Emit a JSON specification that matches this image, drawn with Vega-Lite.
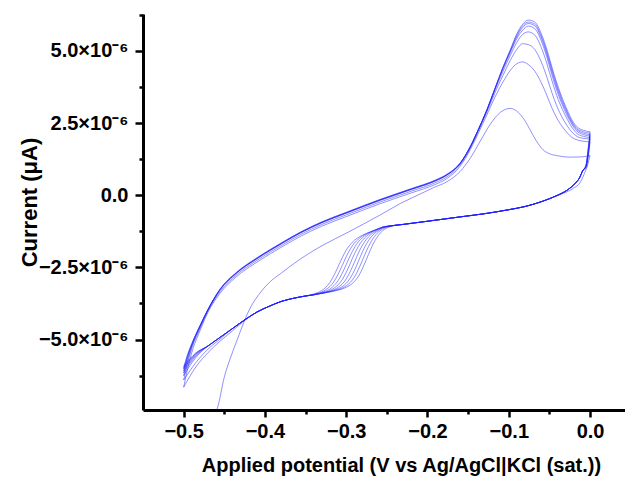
{
"$schema": "https://vega.github.io/schema/vega-lite/v6.json",
"width": 482, "height": 396,
"autosize": {"type": "none"},
"padding": {"left": 143, "top": 14, "right": 0, "bottom": 67},
"background": "white",
"config": {"view": {"stroke": null}},
"data": {"values": [
{"s":"1a","x":-0.462,"y":-7.6e-6},{"s":"1a","x":-0.458,"y":-7.33e-6},{"s":"1a","x":-0.45,"y":-6.3e-6},{"s":"1a","x":-0.442,"y":-5.6e-6},{"s":"1a","x":-0.434,"y":-5.0e-6},{"s":"1a","x":-0.426,"y":-4.4e-6},{"s":"1a","x":-0.418,"y":-3.9e-6},{"s":"1a","x":-0.405,"y":-3.35e-6},{"s":"1a","x":-0.393,"y":-2.98e-6},{"s":"1a","x":-0.381,"y":-2.72e-6},{"s":"1a","x":-0.356,"y":-2.2e-6},{"s":"1a","x":-0.33,"y":-1.75e-6},{"s":"1a","x":-0.299,"y":-1.3e-6},{"s":"1a","x":-0.258,"y":-0.68e-6},{"s":"1a","x":-0.233,"y":-0.28e-6},{"s":"1a","x":-0.21,"y":0.03e-6},{"s":"1a","x":-0.193,"y":0.26e-6},{"s":"1a","x":-0.176,"y":0.47e-6},{"s":"1a","x":-0.16,"y":0.82e-6},{"s":"1a","x":-0.147,"y":1.3e-6},{"s":"1a","x":-0.135,"y":1.88e-6},{"s":"1a","x":-0.123,"y":2.45e-6},{"s":"1a","x":-0.11,"y":2.88e-6},{"s":"1a","x":-0.098,"y":3.01e-6},{"s":"1a","x":-0.088,"y":2.86e-6},{"s":"1a","x":-0.08,"y":2.58e-6},{"s":"1a","x":-0.074,"y":2.28e-6},{"s":"1a","x":-0.066,"y":1.88e-6},{"s":"1a","x":-0.058,"y":1.58e-6},{"s":"1a","x":-0.05,"y":1.44e-6},{"s":"1a","x":-0.04,"y":1.37e-6},{"s":"1a","x":-0.025,"y":1.32e-6},{"s":"1a","x":-0.01,"y":1.33e-6},{"s":"1a","x":0,"y":1.38e-6},

{"s":"1c","x":0,"y":1.38e-6},{"s":"1c","x":-0.003,"y":1.05e-6},{"s":"1c","x":-0.007,"y":0.75e-6},{"s":"1c","x":-0.012,"y":0.45e-6},{"s":"1c","x":-0.02,"y":0.25e-6},{"s":"1c","x":-0.03,"y":0.1e-6},{"s":"1c","x":-0.045,"y":-0.06e-6},{"s":"1c","x":-0.065,"y":-0.27e-6},{"s":"1c","x":-0.08,"y":-0.39e-6},{"s":"1c","x":-0.1,"y":-0.5e-6},{"s":"1c","x":-0.13,"y":-0.64e-6},{"s":"1c","x":-0.16,"y":-0.75e-6},{"s":"1c","x":-0.2,"y":-0.9e-6},{"s":"1c","x":-0.23,"y":-1.01e-6},{"s":"1c","x":-0.245,"y":-1.06e-6},
{"s":"1c","x":-0.255,"y":-1.10e-6},{"s":"1c","x":-0.26,"y":-1.15e-6},{"s":"1c","x":-0.265,"y":-1.205e-6},{"s":"1c","x":-0.27,"y":-1.26e-6},{"s":"1c","x":-0.275,"y":-1.32e-6},{"s":"1c","x":-0.28,"y":-1.38e-6},{"s":"1c","x":-0.285,"y":-1.46e-6},{"s":"1c","x":-0.29,"y":-1.56e-6},{"s":"1c","x":-0.295,"y":-1.71e-6},{"s":"1c","x":-0.3,"y":-1.90e-6},{"s":"1c","x":-0.305,"y":-2.17e-6},{"s":"1c","x":-0.31,"y":-2.48e-6},{"s":"1c","x":-0.315,"y":-2.77e-6},{"s":"1c","x":-0.32,"y":-3.02e-6},{"s":"1c","x":-0.325,"y":-3.19e-6},{"s":"1c","x":-0.33,"y":-3.30e-6},{"s":"1c","x":-0.335,"y":-3.37e-6},{"s":"1c","x":-0.34,"y":-3.42e-6},
{"s":"1c","x":-0.35,"y":-3.49e-6},{"s":"1c","x":-0.365,"y":-3.57e-6},{"s":"1c","x":-0.38,"y":-3.68e-6},{"s":"1c","x":-0.395,"y":-3.85e-6},{"s":"1c","x":-0.41,"y":-4.05e-6},{"s":"1c","x":-0.425,"y":-4.34e-6},{"s":"1c","x":-0.44,"y":-4.7e-6},{"s":"1c","x":-0.455,"y":-5.05e-6},{"s":"1c","x":-0.47,"y":-5.45e-6},{"s":"1c","x":-0.485,"y":-5.95e-6},{"s":"1c","x":-0.5,"y":-6.65e-6},

{"s":"2a","x":-0.5,"y":-6.65e-6},{"s":"2a","x":-0.495,"y":-6.0e-6},{"s":"2a","x":-0.49,"y":-5.45e-6},{"s":"2a","x":-0.48,"y":-4.7e-6},{"s":"2a","x":-0.47,"y":-4.05e-6},{"s":"2a","x":-0.455,"y":-3.39e-6},{"s":"2a","x":-0.435,"y":-2.82e-6},{"s":"2a","x":-0.41,"y":-2.32e-6},{"s":"2a","x":-0.393,"y":-2.02e-6},{"s":"2a","x":-0.375,"y":-1.72e-6},{"s":"2a","x":-0.356,"y":-1.42e-6},{"s":"2a","x":-0.33,"y":-1.07e-6},{"s":"2a","x":-0.3,"y":-0.74e-6},{"s":"2a","x":-0.258,"y":-0.29e-6},{"s":"2a","x":-0.22,"y":0.08e-6},{"s":"2a","x":-0.19,"y":0.38e-6},{"s":"2a","x":-0.176,"y":0.58e-6},
{"s":"2a","x":-0.16,"y":1.0e-6},{"s":"2a","x":-0.147,"y":1.6e-6},{"s":"2a","x":-0.137,"y":2.18e-6},{"s":"2a","x":-0.127,"y":2.78e-6},{"s":"2a","x":-0.117,"y":3.4e-6},{"s":"2a","x":-0.107,"y":3.93e-6},{"s":"2a","x":-0.098,"y":4.33e-6},{"s":"2a","x":-0.09,"y":4.56e-6},{"s":"2a","x":-0.083,"y":4.62e-6},{"s":"2a","x":-0.076,"y":4.53e-6},{"s":"2a","x":-0.068,"y":4.3e-6},{"s":"2a","x":-0.06,"y":3.9e-6},{"s":"2a","x":-0.053,"y":3.45e-6},{"s":"2a","x":-0.047,"y":3.03e-6},{"s":"2a","x":-0.041,"y":2.68e-6},{"s":"2a","x":-0.034,"y":2.37e-6},{"s":"2a","x":-0.028,"y":2.16e-6},{"s":"2a","x":-0.022,"y":2.0e-6},{"s":"2a","x":-0.016,"y":1.92e-6},{"s":"2a","x":-0.008,"y":1.87e-6},{"s":"2a","x":0,"y":1.85e-6},

{"s":"2c","x":0,"y":1.85e-6},{"s":"2c","x":-0.002,"y":1.35e-6},{"s":"2c","x":-0.005,"y":0.945e-6},{"s":"2c","x":-0.009,"y":0.85e-6},{"s":"2c","x":-0.013,"y":0.6e-6},{"s":"2c","x":-0.018,"y":0.42e-6},{"s":"2c","x":-0.028,"y":0.18e-6},{"s":"2c","x":-0.04,"y":0},{"s":"2c","x":-0.05,"y":-0.12e-6},{"s":"2c","x":-0.065,"y":-0.27e-6},{"s":"2c","x":-0.08,"y":-0.39e-6},{"s":"2c","x":-0.1,"y":-0.5e-6},{"s":"2c","x":-0.13,"y":-0.64e-6},{"s":"2c","x":-0.16,"y":-0.75e-6},{"s":"2c","x":-0.2,"y":-0.9e-6},{"s":"2c","x":-0.23,"y":-1.01e-6},{"s":"2c","x":-0.245,"y":-1.06e-6},
{"s":"2c","x":-0.255,"y":-1.10e-6},{"s":"2c","x":-0.26,"y":-1.155e-6},{"s":"2c","x":-0.265,"y":-1.21e-6},{"s":"2c","x":-0.27,"y":-1.27e-6},{"s":"2c","x":-0.275,"y":-1.33e-6},{"s":"2c","x":-0.28,"y":-1.41e-6},{"s":"2c","x":-0.285,"y":-1.52e-6},{"s":"2c","x":-0.29,"y":-1.66e-6},{"s":"2c","x":-0.295,"y":-1.86e-6},{"s":"2c","x":-0.3,"y":-2.13e-6},{"s":"2c","x":-0.305,"y":-2.44e-6},{"s":"2c","x":-0.31,"y":-2.74e-6},{"s":"2c","x":-0.315,"y":-2.99e-6},{"s":"2c","x":-0.32,"y":-3.16e-6},{"s":"2c","x":-0.325,"y":-3.27e-6},{"s":"2c","x":-0.33,"y":-3.35e-6},{"s":"2c","x":-0.335,"y":-3.40e-6},{"s":"2c","x":-0.34,"y":-3.44e-6},
{"s":"2c","x":-0.35,"y":-3.49e-6},{"s":"2c","x":-0.365,"y":-3.57e-6},{"s":"2c","x":-0.38,"y":-3.68e-6},{"s":"2c","x":-0.395,"y":-3.85e-6},{"s":"2c","x":-0.41,"y":-4.05e-6},{"s":"2c","x":-0.425,"y":-4.32e-6},{"s":"2c","x":-0.44,"y":-4.62e-6},{"s":"2c","x":-0.455,"y":-4.98e-6},{"s":"2c","x":-0.47,"y":-5.33e-6},{"s":"2c","x":-0.485,"y":-5.8e-6},{"s":"2c","x":-0.5,"y":-6.4e-6},

{"s":"3a","x":-0.5,"y":-6.4e-6},{"s":"3a","x":-0.495,"y":-5.8e-6},{"s":"3a","x":-0.49,"y":-5.3e-6},{"s":"3a","x":-0.48,"y":-4.62e-6},{"s":"3a","x":-0.47,"y":-4.0e-6},{"s":"3a","x":-0.455,"y":-3.33e-6},{"s":"3a","x":-0.435,"y":-2.76e-6},{"s":"3a","x":-0.41,"y":-2.26e-6},{"s":"3a","x":-0.393,"y":-1.96e-6},{"s":"3a","x":-0.375,"y":-1.66e-6},{"s":"3a","x":-0.356,"y":-1.36e-6},{"s":"3a","x":-0.33,"y":-1.01e-6},{"s":"3a","x":-0.3,"y":-0.68e-6},{"s":"3a","x":-0.258,"y":-0.23e-6},{"s":"3a","x":-0.22,"y":0.14e-6},{"s":"3a","x":-0.19,"y":0.44e-6},{"s":"3a","x":-0.176,"y":0.64e-6},
{"s":"3a","x":-0.16,"y":1.05e-6},{"s":"3a","x":-0.147,"y":1.65e-6},{"s":"3a","x":-0.137,"y":2.25e-6},{"s":"3a","x":-0.127,"y":2.88e-6},{"s":"3a","x":-0.117,"y":3.55e-6},{"s":"3a","x":-0.107,"y":4.16e-6},{"s":"3a","x":-0.098,"y":4.68e-6},{"s":"3a","x":-0.09,"y":5.06e-6},{"s":"3a","x":-0.083,"y":5.25e-6},{"s":"3a","x":-0.076,"y":5.22e-6},{"s":"3a","x":-0.068,"y":5.05e-6},{"s":"3a","x":-0.06,"y":4.62e-6},{"s":"3a","x":-0.053,"y":4.08e-6},{"s":"3a","x":-0.047,"y":3.56e-6},{"s":"3a","x":-0.041,"y":3.1e-6},{"s":"3a","x":-0.034,"y":2.68e-6},{"s":"3a","x":-0.028,"y":2.4e-6},{"s":"3a","x":-0.022,"y":2.18e-6},{"s":"3a","x":-0.016,"y":2.04e-6},{"s":"3a","x":-0.008,"y":1.97e-6},{"s":"3a","x":0,"y":1.95e-6},

{"s":"3c","x":0,"y":1.95e-6},{"s":"3c","x":-0.002,"y":1.45e-6},{"s":"3c","x":-0.005,"y":0.975e-6},{"s":"3c","x":-0.009,"y":0.85e-6},{"s":"3c","x":-0.013,"y":0.6e-6},{"s":"3c","x":-0.018,"y":0.42e-6},{"s":"3c","x":-0.028,"y":0.18e-6},{"s":"3c","x":-0.04,"y":0},{"s":"3c","x":-0.05,"y":-0.12e-6},{"s":"3c","x":-0.065,"y":-0.27e-6},{"s":"3c","x":-0.08,"y":-0.39e-6},{"s":"3c","x":-0.1,"y":-0.5e-6},{"s":"3c","x":-0.13,"y":-0.64e-6},{"s":"3c","x":-0.16,"y":-0.75e-6},{"s":"3c","x":-0.2,"y":-0.9e-6},{"s":"3c","x":-0.23,"y":-1.01e-6},{"s":"3c","x":-0.245,"y":-1.06e-6},
{"s":"3c","x":-0.255,"y":-1.105e-6},{"s":"3c","x":-0.26,"y":-1.16e-6},{"s":"3c","x":-0.265,"y":-1.22e-6},{"s":"3c","x":-0.27,"y":-1.28e-6},{"s":"3c","x":-0.275,"y":-1.36e-6},{"s":"3c","x":-0.28,"y":-1.47e-6},{"s":"3c","x":-0.285,"y":-1.61e-6},{"s":"3c","x":-0.29,"y":-1.82e-6},{"s":"3c","x":-0.295,"y":-2.09e-6},{"s":"3c","x":-0.3,"y":-2.40e-6},{"s":"3c","x":-0.305,"y":-2.71e-6},{"s":"3c","x":-0.31,"y":-2.96e-6},{"s":"3c","x":-0.315,"y":-3.13e-6},{"s":"3c","x":-0.32,"y":-3.25e-6},{"s":"3c","x":-0.325,"y":-3.32e-6},{"s":"3c","x":-0.33,"y":-3.37e-6},{"s":"3c","x":-0.335,"y":-3.41e-6},{"s":"3c","x":-0.34,"y":-3.44e-6},
{"s":"3c","x":-0.35,"y":-3.49e-6},{"s":"3c","x":-0.365,"y":-3.57e-6},{"s":"3c","x":-0.38,"y":-3.68e-6},{"s":"3c","x":-0.395,"y":-3.85e-6},{"s":"3c","x":-0.41,"y":-4.05e-6},{"s":"3c","x":-0.425,"y":-4.32e-6},{"s":"3c","x":-0.44,"y":-4.62e-6},{"s":"3c","x":-0.455,"y":-4.92e-6},{"s":"3c","x":-0.47,"y":-5.22e-6},{"s":"3c","x":-0.485,"y":-5.62e-6},{"s":"3c","x":-0.5,"y":-6.25e-6},

{"s":"4a","x":-0.5,"y":-6.25e-6},{"s":"4a","x":-0.495,"y":-5.7e-6},{"s":"4a","x":-0.49,"y":-5.25e-6},{"s":"4a","x":-0.48,"y":-4.58e-6},{"s":"4a","x":-0.47,"y":-3.98e-6},{"s":"4a","x":-0.455,"y":-3.27e-6},{"s":"4a","x":-0.435,"y":-2.7e-6},{"s":"4a","x":-0.41,"y":-2.2e-6},{"s":"4a","x":-0.393,"y":-1.9e-6},{"s":"4a","x":-0.375,"y":-1.6e-6},{"s":"4a","x":-0.356,"y":-1.3e-6},{"s":"4a","x":-0.33,"y":-0.95e-6},{"s":"4a","x":-0.3,"y":-0.62e-6},{"s":"4a","x":-0.258,"y":-0.17e-6},{"s":"4a","x":-0.22,"y":0.2e-6},{"s":"4a","x":-0.19,"y":0.5e-6},{"s":"4a","x":-0.176,"y":0.7e-6},
{"s":"4a","x":-0.16,"y":1.1e-6},{"s":"4a","x":-0.147,"y":1.7e-6},{"s":"4a","x":-0.137,"y":2.3e-6},{"s":"4a","x":-0.127,"y":2.93e-6},{"s":"4a","x":-0.117,"y":3.64e-6},{"s":"4a","x":-0.107,"y":4.3e-6},{"s":"4a","x":-0.098,"y":4.85e-6},{"s":"4a","x":-0.09,"y":5.3e-6},{"s":"4a","x":-0.083,"y":5.57e-6},{"s":"4a","x":-0.076,"y":5.66e-6},{"s":"4a","x":-0.068,"y":5.55e-6},{"s":"4a","x":-0.06,"y":5.12e-6},{"s":"4a","x":-0.053,"y":4.55e-6},{"s":"4a","x":-0.047,"y":3.98e-6},{"s":"4a","x":-0.041,"y":3.46e-6},{"s":"4a","x":-0.034,"y":2.97e-6},{"s":"4a","x":-0.028,"y":2.63e-6},{"s":"4a","x":-0.022,"y":2.34e-6},{"s":"4a","x":-0.016,"y":2.14e-6},{"s":"4a","x":-0.008,"y":2.04e-6},{"s":"4a","x":0,"y":2.0e-6},

{"s":"4c","x":0,"y":2.0e-6},{"s":"4c","x":-0.002,"y":1.5e-6},{"s":"4c","x":-0.005,"y":0.99e-6},{"s":"4c","x":-0.009,"y":0.85e-6},{"s":"4c","x":-0.013,"y":0.6e-6},{"s":"4c","x":-0.018,"y":0.42e-6},{"s":"4c","x":-0.028,"y":0.18e-6},{"s":"4c","x":-0.04,"y":0},{"s":"4c","x":-0.05,"y":-0.12e-6},{"s":"4c","x":-0.065,"y":-0.27e-6},{"s":"4c","x":-0.08,"y":-0.39e-6},{"s":"4c","x":-0.1,"y":-0.5e-6},{"s":"4c","x":-0.13,"y":-0.64e-6},{"s":"4c","x":-0.16,"y":-0.75e-6},{"s":"4c","x":-0.2,"y":-0.9e-6},{"s":"4c","x":-0.23,"y":-1.01e-6},{"s":"4c","x":-0.245,"y":-1.06e-6},
{"s":"4c","x":-0.255,"y":-1.11e-6},{"s":"4c","x":-0.26,"y":-1.17e-6},{"s":"4c","x":-0.265,"y":-1.23e-6},{"s":"4c","x":-0.27,"y":-1.31e-6},{"s":"4c","x":-0.275,"y":-1.42e-6},{"s":"4c","x":-0.28,"y":-1.56e-6},{"s":"4c","x":-0.285,"y":-1.77e-6},{"s":"4c","x":-0.29,"y":-2.04e-6},{"s":"4c","x":-0.295,"y":-2.36e-6},{"s":"4c","x":-0.3,"y":-2.67e-6},{"s":"4c","x":-0.305,"y":-2.93e-6},{"s":"4c","x":-0.31,"y":-3.10e-6},{"s":"4c","x":-0.315,"y":-3.22e-6},{"s":"4c","x":-0.32,"y":-3.30e-6},{"s":"4c","x":-0.325,"y":-3.35e-6},{"s":"4c","x":-0.33,"y":-3.39e-6},{"s":"4c","x":-0.335,"y":-3.42e-6},{"s":"4c","x":-0.34,"y":-3.45e-6},
{"s":"4c","x":-0.35,"y":-3.49e-6},{"s":"4c","x":-0.365,"y":-3.57e-6},{"s":"4c","x":-0.38,"y":-3.68e-6},{"s":"4c","x":-0.395,"y":-3.85e-6},{"s":"4c","x":-0.41,"y":-4.05e-6},{"s":"4c","x":-0.425,"y":-4.32e-6},{"s":"4c","x":-0.44,"y":-4.62e-6},{"s":"4c","x":-0.455,"y":-4.92e-6},{"s":"4c","x":-0.47,"y":-5.22e-6},{"s":"4c","x":-0.485,"y":-5.57e-6},{"s":"4c","x":-0.5,"y":-6.15e-6},

{"s":"5a","x":-0.5,"y":-6.15e-6},{"s":"5a","x":-0.495,"y":-5.62e-6},{"s":"5a","x":-0.49,"y":-5.2e-6},{"s":"5a","x":-0.48,"y":-4.55e-6},{"s":"5a","x":-0.47,"y":-3.97e-6},{"s":"5a","x":-0.455,"y":-3.27e-6},{"s":"5a","x":-0.435,"y":-2.7e-6},{"s":"5a","x":-0.41,"y":-2.2e-6},{"s":"5a","x":-0.393,"y":-1.9e-6},{"s":"5a","x":-0.375,"y":-1.6e-6},{"s":"5a","x":-0.356,"y":-1.3e-6},{"s":"5a","x":-0.33,"y":-0.95e-6},{"s":"5a","x":-0.3,"y":-0.62e-6},{"s":"5a","x":-0.258,"y":-0.17e-6},{"s":"5a","x":-0.22,"y":0.2e-6},{"s":"5a","x":-0.19,"y":0.5e-6},{"s":"5a","x":-0.176,"y":0.7e-6},
{"s":"5a","x":-0.16,"y":1.1e-6},{"s":"5a","x":-0.147,"y":1.7e-6},{"s":"5a","x":-0.137,"y":2.3e-6},{"s":"5a","x":-0.127,"y":2.94e-6},{"s":"5a","x":-0.117,"y":3.68e-6},{"s":"5a","x":-0.107,"y":4.38e-6},{"s":"5a","x":-0.098,"y":4.95e-6},{"s":"5a","x":-0.09,"y":5.43e-6},{"s":"5a","x":-0.083,"y":5.72e-6},{"s":"5a","x":-0.076,"y":5.86e-6},{"s":"5a","x":-0.068,"y":5.77e-6},{"s":"5a","x":-0.06,"y":5.35e-6},{"s":"5a","x":-0.053,"y":4.77e-6},{"s":"5a","x":-0.047,"y":4.18e-6},{"s":"5a","x":-0.041,"y":3.64e-6},{"s":"5a","x":-0.034,"y":3.12e-6},{"s":"5a","x":-0.028,"y":2.75e-6},{"s":"5a","x":-0.022,"y":2.44e-6},{"s":"5a","x":-0.016,"y":2.22e-6},{"s":"5a","x":-0.008,"y":2.1e-6},{"s":"5a","x":0,"y":2.05e-6},

{"s":"5c","x":0,"y":2.05e-6},{"s":"5c","x":-0.002,"y":1.55e-6},{"s":"5c","x":-0.005,"y":1.005e-6},{"s":"5c","x":-0.009,"y":0.85e-6},{"s":"5c","x":-0.013,"y":0.6e-6},{"s":"5c","x":-0.018,"y":0.42e-6},{"s":"5c","x":-0.028,"y":0.18e-6},{"s":"5c","x":-0.04,"y":0},{"s":"5c","x":-0.05,"y":-0.12e-6},{"s":"5c","x":-0.065,"y":-0.27e-6},{"s":"5c","x":-0.08,"y":-0.39e-6},{"s":"5c","x":-0.1,"y":-0.5e-6},{"s":"5c","x":-0.13,"y":-0.64e-6},{"s":"5c","x":-0.16,"y":-0.75e-6},{"s":"5c","x":-0.2,"y":-0.9e-6},{"s":"5c","x":-0.23,"y":-1.01e-6},{"s":"5c","x":-0.245,"y":-1.06e-6},
{"s":"5c","x":-0.255,"y":-1.12e-6},{"s":"5c","x":-0.26,"y":-1.18e-6},{"s":"5c","x":-0.265,"y":-1.27e-6},{"s":"5c","x":-0.27,"y":-1.37e-6},{"s":"5c","x":-0.275,"y":-1.52e-6},{"s":"5c","x":-0.28,"y":-1.73e-6},{"s":"5c","x":-0.285,"y":-2.00e-6},{"s":"5c","x":-0.29,"y":-2.33e-6},{"s":"5c","x":-0.295,"y":-2.64e-6},{"s":"5c","x":-0.3,"y":-2.90e-6},{"s":"5c","x":-0.305,"y":-3.08e-6},{"s":"5c","x":-0.31,"y":-3.19e-6},{"s":"5c","x":-0.315,"y":-3.27e-6},{"s":"5c","x":-0.32,"y":-3.32e-6},{"s":"5c","x":-0.325,"y":-3.36e-6},{"s":"5c","x":-0.33,"y":-3.39e-6},{"s":"5c","x":-0.335,"y":-3.42e-6},{"s":"5c","x":-0.34,"y":-3.45e-6},
{"s":"5c","x":-0.35,"y":-3.49e-6},{"s":"5c","x":-0.365,"y":-3.57e-6},{"s":"5c","x":-0.38,"y":-3.68e-6},{"s":"5c","x":-0.395,"y":-3.85e-6},{"s":"5c","x":-0.41,"y":-4.05e-6},{"s":"5c","x":-0.425,"y":-4.32e-6},{"s":"5c","x":-0.44,"y":-4.62e-6},{"s":"5c","x":-0.455,"y":-4.92e-6},{"s":"5c","x":-0.47,"y":-5.22e-6},{"s":"5c","x":-0.485,"y":-5.53e-6},{"s":"5c","x":-0.5,"y":-6.08e-6},

{"s":"6a","x":-0.5,"y":-6.08e-6},{"s":"6a","x":-0.495,"y":-5.58e-6},{"s":"6a","x":-0.49,"y":-5.18e-6},{"s":"6a","x":-0.48,"y":-4.54e-6},{"s":"6a","x":-0.47,"y":-3.96e-6},{"s":"6a","x":-0.455,"y":-3.26e-6},{"s":"6a","x":-0.435,"y":-2.69e-6},{"s":"6a","x":-0.41,"y":-2.19e-6},{"s":"6a","x":-0.393,"y":-1.89e-6},{"s":"6a","x":-0.375,"y":-1.59e-6},{"s":"6a","x":-0.356,"y":-1.29e-6},{"s":"6a","x":-0.33,"y":-0.94e-6},{"s":"6a","x":-0.3,"y":-0.61e-6},{"s":"6a","x":-0.258,"y":-0.16e-6},{"s":"6a","x":-0.22,"y":0.21e-6},{"s":"6a","x":-0.19,"y":0.51e-6},{"s":"6a","x":-0.176,"y":0.71e-6},
{"s":"6a","x":-0.16,"y":1.1e-6},{"s":"6a","x":-0.147,"y":1.7e-6},{"s":"6a","x":-0.137,"y":2.3e-6},{"s":"6a","x":-0.127,"y":2.95e-6},{"s":"6a","x":-0.117,"y":3.69e-6},{"s":"6a","x":-0.107,"y":4.42e-6},{"s":"6a","x":-0.098,"y":5.0e-6},{"s":"6a","x":-0.09,"y":5.5e-6},{"s":"6a","x":-0.083,"y":5.81e-6},{"s":"6a","x":-0.076,"y":5.95e-6},{"s":"6a","x":-0.068,"y":5.87e-6},{"s":"6a","x":-0.06,"y":5.45e-6},{"s":"6a","x":-0.053,"y":4.87e-6},{"s":"6a","x":-0.047,"y":4.28e-6},{"s":"6a","x":-0.041,"y":3.74e-6},{"s":"6a","x":-0.034,"y":3.2e-6},{"s":"6a","x":-0.028,"y":2.82e-6},{"s":"6a","x":-0.022,"y":2.49e-6},{"s":"6a","x":-0.016,"y":2.27e-6},{"s":"6a","x":-0.008,"y":2.15e-6},{"s":"6a","x":0,"y":2.1e-6},

{"s":"6c","x":0,"y":2.1e-6},{"s":"6c","x":-0.002,"y":1.6e-6},{"s":"6c","x":-0.005,"y":1.02e-6},{"s":"6c","x":-0.009,"y":0.85e-6},{"s":"6c","x":-0.013,"y":0.6e-6},{"s":"6c","x":-0.018,"y":0.42e-6},{"s":"6c","x":-0.028,"y":0.18e-6},{"s":"6c","x":-0.04,"y":0},{"s":"6c","x":-0.05,"y":-0.12e-6},{"s":"6c","x":-0.065,"y":-0.27e-6},{"s":"6c","x":-0.08,"y":-0.39e-6},{"s":"6c","x":-0.1,"y":-0.5e-6},{"s":"6c","x":-0.13,"y":-0.64e-6},{"s":"6c","x":-0.16,"y":-0.75e-6},{"s":"6c","x":-0.2,"y":-0.9e-6},{"s":"6c","x":-0.23,"y":-1.01e-6},{"s":"6c","x":-0.245,"y":-1.06e-6},
{"s":"6c","x":-0.255,"y":-1.135e-6},{"s":"6c","x":-0.26,"y":-1.215e-6},{"s":"6c","x":-0.265,"y":-1.32e-6},{"s":"6c","x":-0.27,"y":-1.47e-6},{"s":"6c","x":-0.275,"y":-1.68e-6},{"s":"6c","x":-0.28,"y":-1.96e-6},{"s":"6c","x":-0.285,"y":-2.29e-6},{"s":"6c","x":-0.29,"y":-2.61e-6},{"s":"6c","x":-0.295,"y":-2.87e-6},{"s":"6c","x":-0.3,"y":-3.05e-6},{"s":"6c","x":-0.305,"y":-3.17e-6},{"s":"6c","x":-0.31,"y":-3.24e-6},{"s":"6c","x":-0.315,"y":-3.30e-6},{"s":"6c","x":-0.32,"y":-3.34e-6},{"s":"6c","x":-0.325,"y":-3.37e-6},{"s":"6c","x":-0.33,"y":-3.40e-6},{"s":"6c","x":-0.335,"y":-3.42e-6},{"s":"6c","x":-0.34,"y":-3.45e-6},
{"s":"6c","x":-0.35,"y":-3.49e-6},{"s":"6c","x":-0.365,"y":-3.57e-6},{"s":"6c","x":-0.38,"y":-3.68e-6},{"s":"6c","x":-0.395,"y":-3.85e-6},{"s":"6c","x":-0.41,"y":-4.05e-6},{"s":"6c","x":-0.425,"y":-4.32e-6},{"s":"6c","x":-0.44,"y":-4.62e-6},{"s":"6c","x":-0.455,"y":-4.92e-6},{"s":"6c","x":-0.47,"y":-5.22e-6},{"s":"6c","x":-0.485,"y":-5.5e-6},{"s":"6c","x":-0.5,"y":-6.02e-6},

{"s":"7a","x":-0.5,"y":-6.02e-6},{"s":"7a","x":-0.495,"y":-5.54e-6},{"s":"7a","x":-0.49,"y":-5.16e-6},{"s":"7a","x":-0.48,"y":-4.53e-6},{"s":"7a","x":-0.47,"y":-3.95e-6},{"s":"7a","x":-0.455,"y":-3.25e-6},{"s":"7a","x":-0.435,"y":-2.68e-6},{"s":"7a","x":-0.41,"y":-2.18e-6},{"s":"7a","x":-0.393,"y":-1.88e-6},{"s":"7a","x":-0.375,"y":-1.58e-6},{"s":"7a","x":-0.356,"y":-1.28e-6},{"s":"7a","x":-0.33,"y":-0.93e-6},{"s":"7a","x":-0.3,"y":-0.6e-6},{"s":"7a","x":-0.258,"y":-0.15e-6},{"s":"7a","x":-0.22,"y":0.22e-6},{"s":"7a","x":-0.19,"y":0.52e-6},{"s":"7a","x":-0.176,"y":0.72e-6},
{"s":"7a","x":-0.16,"y":1.1e-6},{"s":"7a","x":-0.147,"y":1.7e-6},{"s":"7a","x":-0.137,"y":2.3e-6},{"s":"7a","x":-0.127,"y":2.95e-6},{"s":"7a","x":-0.117,"y":3.7e-6},{"s":"7a","x":-0.107,"y":4.43e-6},{"s":"7a","x":-0.098,"y":5.02e-6},{"s":"7a","x":-0.09,"y":5.55e-6},{"s":"7a","x":-0.083,"y":5.87e-6},{"s":"7a","x":-0.076,"y":6.0e-6},{"s":"7a","x":-0.068,"y":5.93e-6},{"s":"7a","x":-0.06,"y":5.52e-6},{"s":"7a","x":-0.053,"y":4.95e-6},{"s":"7a","x":-0.047,"y":4.37e-6},{"s":"7a","x":-0.041,"y":3.82e-6},{"s":"7a","x":-0.034,"y":3.28e-6},{"s":"7a","x":-0.028,"y":2.88e-6},{"s":"7a","x":-0.022,"y":2.54e-6},{"s":"7a","x":-0.016,"y":2.31e-6},{"s":"7a","x":-0.008,"y":2.2e-6},{"s":"7a","x":0,"y":2.15e-6},

{"s":"7c","x":0,"y":2.15e-6},{"s":"7c","x":-0.002,"y":1.65e-6},{"s":"7c","x":-0.005,"y":1.035e-6},{"s":"7c","x":-0.009,"y":0.85e-6},{"s":"7c","x":-0.013,"y":0.6e-6},{"s":"7c","x":-0.018,"y":0.42e-6},{"s":"7c","x":-0.028,"y":0.18e-6},{"s":"7c","x":-0.04,"y":0},{"s":"7c","x":-0.05,"y":-0.12e-6},{"s":"7c","x":-0.065,"y":-0.27e-6},{"s":"7c","x":-0.08,"y":-0.39e-6},{"s":"7c","x":-0.1,"y":-0.5e-6},{"s":"7c","x":-0.13,"y":-0.64e-6},{"s":"7c","x":-0.16,"y":-0.75e-6},{"s":"7c","x":-0.2,"y":-0.9e-6},{"s":"7c","x":-0.23,"y":-1.01e-6},{"s":"7c","x":-0.245,"y":-1.06e-6},
{"s":"7c","x":-0.255,"y":-1.17e-6},{"s":"7c","x":-0.26,"y":-1.27e-6},{"s":"7c","x":-0.265,"y":-1.42e-6},{"s":"7c","x":-0.27,"y":-1.64e-6},{"s":"7c","x":-0.275,"y":-1.92e-6},{"s":"7c","x":-0.28,"y":-2.25e-6},{"s":"7c","x":-0.285,"y":-2.57e-6},{"s":"7c","x":-0.29,"y":-2.84e-6},{"s":"7c","x":-0.295,"y":-3.02e-6},{"s":"7c","x":-0.3,"y":-3.14e-6},{"s":"7c","x":-0.305,"y":-3.22e-6},{"s":"7c","x":-0.31,"y":-3.27e-6},{"s":"7c","x":-0.315,"y":-3.31e-6},{"s":"7c","x":-0.32,"y":-3.34e-6},{"s":"7c","x":-0.325,"y":-3.37e-6},{"s":"7c","x":-0.33,"y":-3.40e-6},{"s":"7c","x":-0.335,"y":-3.42e-6},{"s":"7c","x":-0.34,"y":-3.45e-6},
{"s":"7c","x":-0.35,"y":-3.49e-6},{"s":"7c","x":-0.365,"y":-3.57e-6},{"s":"7c","x":-0.38,"y":-3.68e-6},{"s":"7c","x":-0.395,"y":-3.85e-6},{"s":"7c","x":-0.41,"y":-4.05e-6},{"s":"7c","x":-0.425,"y":-4.32e-6},{"s":"7c","x":-0.44,"y":-4.62e-6},{"s":"7c","x":-0.455,"y":-4.92e-6},{"s":"7c","x":-0.47,"y":-5.22e-6},{"s":"7c","x":-0.485,"y":-5.48e-6},{"s":"7c","x":-0.5,"y":-5.97e-6},

{"s":"8a","x":-0.5,"y":-5.97e-6},{"s":"8a","x":-0.495,"y":-5.5e-6},{"s":"8a","x":-0.49,"y":-5.14e-6},{"s":"8a","x":-0.48,"y":-4.52e-6},{"s":"8a","x":-0.47,"y":-3.95e-6},{"s":"8a","x":-0.455,"y":-3.24e-6},{"s":"8a","x":-0.435,"y":-2.67e-6},{"s":"8a","x":-0.41,"y":-2.17e-6},{"s":"8a","x":-0.393,"y":-1.87e-6},{"s":"8a","x":-0.375,"y":-1.57e-6},{"s":"8a","x":-0.356,"y":-1.27e-6},{"s":"8a","x":-0.33,"y":-0.92e-6},{"s":"8a","x":-0.3,"y":-0.59e-6},{"s":"8a","x":-0.258,"y":-0.14e-6},{"s":"8a","x":-0.22,"y":0.23e-6},{"s":"8a","x":-0.19,"y":0.53e-6},{"s":"8a","x":-0.176,"y":0.73e-6},
{"s":"8a","x":-0.16,"y":1.1e-6},{"s":"8a","x":-0.147,"y":1.7e-6},{"s":"8a","x":-0.137,"y":2.3e-6},{"s":"8a","x":-0.127,"y":2.95e-6},{"s":"8a","x":-0.117,"y":3.7e-6},{"s":"8a","x":-0.107,"y":4.45e-6},{"s":"8a","x":-0.098,"y":5.05e-6},{"s":"8a","x":-0.09,"y":5.6e-6},{"s":"8a","x":-0.083,"y":5.92e-6},{"s":"8a","x":-0.076,"y":6.07e-6},{"s":"8a","x":-0.068,"y":6.0e-6},{"s":"8a","x":-0.06,"y":5.6e-6},{"s":"8a","x":-0.053,"y":5.04e-6},{"s":"8a","x":-0.047,"y":4.45e-6},{"s":"8a","x":-0.041,"y":3.9e-6},{"s":"8a","x":-0.034,"y":3.35e-6},{"s":"8a","x":-0.028,"y":2.95e-6},{"s":"8a","x":-0.022,"y":2.6e-6},{"s":"8a","x":-0.016,"y":2.37e-6},{"s":"8a","x":-0.008,"y":2.25e-6},{"s":"8a","x":0,"y":2.2e-6},

{"s":"8c","x":0,"y":2.2e-6},{"s":"8c","x":-0.002,"y":1.7e-6},{"s":"8c","x":-0.005,"y":1.05e-6},{"s":"8c","x":-0.009,"y":0.85e-6},{"s":"8c","x":-0.013,"y":0.6e-6},{"s":"8c","x":-0.018,"y":0.42e-6},{"s":"8c","x":-0.028,"y":0.18e-6},{"s":"8c","x":-0.04,"y":0},{"s":"8c","x":-0.05,"y":-0.12e-6},{"s":"8c","x":-0.065,"y":-0.27e-6},{"s":"8c","x":-0.08,"y":-0.39e-6},{"s":"8c","x":-0.1,"y":-0.5e-6},{"s":"8c","x":-0.13,"y":-0.64e-6},{"s":"8c","x":-0.16,"y":-0.75e-6},{"s":"8c","x":-0.2,"y":-0.9e-6},{"s":"8c","x":-0.23,"y":-1.01e-6},{"s":"8c","x":-0.245,"y":-1.08e-6},
{"s":"8c","x":-0.255,"y":-1.225e-6},{"s":"8c","x":-0.26,"y":-1.38e-6},{"s":"8c","x":-0.265,"y":-1.59e-6},{"s":"8c","x":-0.27,"y":-1.88e-6},{"s":"8c","x":-0.275,"y":-2.21e-6},{"s":"8c","x":-0.28,"y":-2.54e-6},{"s":"8c","x":-0.285,"y":-2.81e-6},{"s":"8c","x":-0.29,"y":-2.99e-6},{"s":"8c","x":-0.295,"y":-3.11e-6},{"s":"8c","x":-0.3,"y":-3.19e-6},{"s":"8c","x":-0.305,"y":-3.25e-6},{"s":"8c","x":-0.31,"y":-3.29e-6},{"s":"8c","x":-0.315,"y":-3.32e-6},{"s":"8c","x":-0.32,"y":-3.35e-6},{"s":"8c","x":-0.325,"y":-3.375e-6},{"s":"8c","x":-0.33,"y":-3.40e-6},{"s":"8c","x":-0.335,"y":-3.42e-6},{"s":"8c","x":-0.34,"y":-3.45e-6},
{"s":"8c","x":-0.35,"y":-3.49e-6},{"s":"8c","x":-0.365,"y":-3.57e-6},{"s":"8c","x":-0.38,"y":-3.68e-6},{"s":"8c","x":-0.395,"y":-3.85e-6},{"s":"8c","x":-0.41,"y":-4.05e-6},{"s":"8c","x":-0.425,"y":-4.32e-6},{"s":"8c","x":-0.44,"y":-4.62e-6},{"s":"8c","x":-0.455,"y":-4.92e-6},{"s":"8c","x":-0.47,"y":-5.22e-6},{"s":"8c","x":-0.485,"y":-5.46e-6},{"s":"8c","x":-0.5,"y":-5.92e-6}
]},
"mark": {"type": "line", "clip": true, "interpolate": "monotone", "stroke": "#1f1fff", "strokeWidth": 0.9, "opacity": 0.55},
"encoding": {
  "x": {"field": "x", "type": "quantitative",
    "scale": {"domain": [-0.55, 0.043], "nice": false, "zero": false},
    "axis": {"title": "Applied potential (V vs Ag/AgCl|KCl (sat.))",
      "values": [-0.5, -0.45, -0.4, -0.35, -0.3, -0.25, -0.2, -0.15, -0.1, -0.05, 0],
      "labelExpr": "round(datum.value*100) % 10 == 0 ? format(datum.value, '.1f') : ''",
      "tickSize": {"condition": {"test": "round(datum.value*100) % 10 != 0", "value": 4}, "value": 7},
      "grid": false, "domainColor": "black", "domainWidth": 3, "tickColor": "black", "tickWidth": 2.5,
      "labelFont": "Liberation Sans", "labelFontSize": 20, "labelFontWeight": "bold", "labelColor": "black", "labelPadding": 4,
      "labelFlush": false, "labelOverlap": false,
      "titleFont": "Liberation Sans", "titleFontSize": 20, "titleFontWeight": "bold", "titleColor": "black",
      "titleX": 258, "titleY": 61, "titleBaseline": "alphabetic", "titleAlign": "center"}},
  "y": {"field": "y", "type": "quantitative",
    "scale": {"domain": [-7.44e-6, 6.28e-6], "nice": false, "zero": false},
    "axis": {"title": "Current (μA)",
      "values": [-6.25e-6, -5e-6, -3.75e-6, -2.5e-6, -1.25e-6, 0, 1.25e-6, 2.5e-6, 3.75e-6, 5e-6, 6.25e-6],
      "labelExpr": "round(datum.value*1e8) % 250 != 0 ? '' : (datum.value == 0 ? '0.0' : format(datum.value*1e6, '.1f') + '×10⁻⁶')",
      "tickSize": {"condition": {"test": "round(datum.value*1e8) % 250 != 0", "value": 4}, "value": 8},
      "grid": false, "domainColor": "black", "domainWidth": 3, "tickColor": "black", "tickWidth": 2.5,
      "labelFont": "Liberation Sans", "labelFontSize": 20, "labelFontWeight": "bold", "labelColor": "black", "labelPadding": 7,
      "labelFlush": false, "labelOverlap": false,
      "titleFont": "Liberation Sans", "titleFontSize": 22, "titleFontWeight": "bold", "titleColor": "black",
      "titleX": -107, "titleY": 188, "titleAngle": 270, "titleBaseline": "alphabetic", "titleAlign": "center"}},
  "detail": {"field": "s", "type": "nominal"}
}
}
